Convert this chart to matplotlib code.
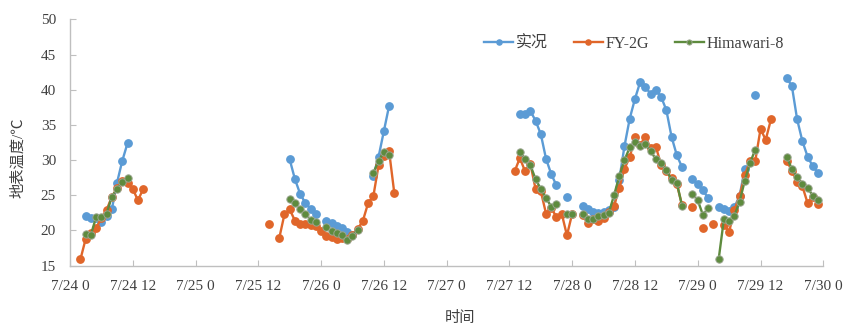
import numpy as np
import pandas as pd
import matplotlib
matplotlib.use("Agg")
import matplotlib.pyplot as plt

plt.rcParams['font.family'] = ['Liberation Serif', 'Noto Sans CJK SC']
plt.rcParams['axes.unicode_minus'] = False

# hourly land surface temperature, hours counted from 7/24 00:00
obs_hours = [3, 4, 5, 6, 7, 8, 9, 10, 11,
             42, 43, 44, 45, 46, 47,
             49, 50, 51, 52, 53, 54,
             58, 59, 60, 61,
             86, 87, 88, 89, 90, 91, 92, 93,
             95,
             98, 99, 100, 101, 102, 103, 104, 105, 106, 107, 108, 109, 110,
             111, 112, 113, 114, 115, 116, 117,
             119, 120, 121, 122,
             124, 125, 126, 127, 128, 129,
             131,
             137, 138, 139, 140, 141, 142, 143]
obs_temp = [22.1, 21.8, 21.8, 21.2, 22.0, 23.0, 26.8, 29.9, 32.4,
            30.1, 27.3, 25.2, 23.9, 23.1, 22.3,
            21.3, 21.0, 20.6, 20.3, 19.8, 19.3,
            27.8, 30.5, 34.1, 37.7,
            36.5, 36.6, 37.0, 35.6, 33.7, 30.2, 28.0, 26.4,
            24.7,
            23.5, 23.0, 22.6, 22.5, 22.6, 22.9, 23.3, 27.2, 32.0, 35.9, 38.7, 41.1, 40.4,
            39.4, 40.0, 39.0, 37.1, 33.3, 30.7, 29.0,
            27.3, 26.6, 25.7, 24.6,
            23.4, 23.0, 22.7, 23.3, 24.9, 28.8,
            39.3,
            41.7, 40.5, 35.8, 32.7, 30.5, 29.1, 28.2]

fy_hours = [2, 3, 4, 5, 6, 7, 8, 9, 10, 11, 12, 13, 14,
            38,
            40, 41, 42, 43, 44, 45, 46, 47, 48, 49, 50, 51, 52, 53, 54, 55,
            56, 57, 58, 59, 60, 61, 62,
            85, 86, 87, 88, 89, 90, 91, 92, 93, 94, 95, 96,
            98, 99, 100, 101, 102, 103, 104, 105, 106, 107, 108, 109, 110,
            111, 112, 113, 114, 115, 116, 117,
            119, 121, 123,
            125, 126, 127, 128, 129, 130, 131, 132, 133, 134,
            137, 138, 139, 140, 141, 142, 143]
fy_temp = [15.9, 18.8, 19.6, 20.3, 21.8, 22.9, 24.8, 26.0, 27.0, 26.8, 25.9, 24.3, 25.9,
           20.9,
           18.9, 22.3, 23.0, 21.4, 20.9, 20.9, 20.8, 20.7, 19.9, 19.2, 19.1, 18.8, 18.9, 18.8, 19.4, 20.2,
           21.4, 23.9, 24.9, 29.3, 30.6, 31.3, 25.3,
           28.4, 30.3, 28.4, 29.5, 25.9, 25.6, 22.4, 23.2, 21.9, 22.4, 19.3, 22.4,
           22.2, 21.0, 21.6, 21.3, 21.8, 22.6, 23.5, 26.0, 28.8, 30.4, 33.3, 32.2, 33.3,
           31.7, 31.9, 29.3, 28.4, 27.4, 26.6, 23.6,
           23.3, 20.3, 20.9,
           20.8, 19.8, 22.9, 24.9, 27.9, 29.9, 29.9, 34.4, 32.9, 35.8,
           29.9, 28.5, 26.9, 26.3, 23.9, 24.8, 23.8]

hw_hours = [3, 4, 5, 6, 7, 8, 9, 10, 11,
            42, 43, 44, 45, 46, 47,
            49, 50, 51, 52, 53, 54, 55,
            58, 59, 60, 61,
            86, 87, 88, 89, 90, 91, 92, 93,
            95, 96,
            98, 99, 100, 101, 102, 103, 104, 105, 106, 107, 108, 109, 110,
            111, 112, 113, 114, 115, 116, 117,
            119, 120, 121, 122,
            124, 125, 126, 127, 128, 129, 130, 131,
            137, 138, 139, 140, 141, 142, 143]
hw_temp = [19.5, 19.4, 21.9, 21.9, 22.4, 24.8, 25.9, 26.9, 27.5,
           24.5, 23.9, 23.0, 22.4, 21.5, 21.2,
           20.5, 19.9, 19.7, 19.4, 18.7, 19.2, 20.1,
           28.2, 29.9, 31.1, 30.7,
           31.2, 30.1, 29.3, 27.3, 25.9, 24.6, 23.4, 23.7,
           22.4, 22.4,
           22.4, 21.7, 21.6, 22.0, 22.2, 22.5, 25.0, 27.7, 30.0, 31.8, 32.6, 32.0, 32.3,
           31.3, 30.1, 29.6, 28.6, 27.2, 26.8, 23.5,
           25.2, 24.3, 22.2, 23.2,
           15.9, 21.6, 21.4, 22.1, 24.1, 27.1, 29.6, 31.5,
           30.5, 28.7, 27.6, 26.6, 26.1, 24.9, 24.4]

tick_hours = list(range(0, 145, 12))
tick_labels = ['7/24 0', '7/24 12', '7/25 0', '7/25 12', '7/26 0', '7/26 12',
               '7/27 0', '7/27 12', '7/28 0', '7/28 12', '7/29 0', '7/29 12', '7/30 0']

all_hours = np.arange(0, 145)


def full_series(hours, values):
    # missing hours become NaN so the line breaks there
    return pd.Series(values, index=hours).reindex(all_hours)


fig = plt.figure(figsize=(8.47, 3.28), dpi=100)
ax = fig.add_axes([0.0826, 0.19, 0.8894, 0.751])

ax.plot(all_hours, full_series(obs_hours, obs_temp), color='#5B9BD5', lw=1.7,
        marker='o', ms=5.3, mec='#5B9BD5', label='实况')
ax.plot(all_hours, full_series(fy_hours, fy_temp), color='#E0662A', lw=1.7,
        marker='o', ms=5.3, mec='#E0662A', label='FY-2G')
ax.plot(all_hours, full_series(hw_hours, hw_temp), color='#5E8B3E', lw=1.7,
        marker='o', ms=5.3, mec='#9AA58F', mew=0.7, label='Himawari-8')

ax.set_xlim(0, 144)
ax.set_ylim(15, 50)
ax.set_xticks(tick_hours)
ax.set_xticklabels(tick_labels)
ax.set_yticks(np.arange(15, 51, 5))

for side in ['top', 'right']:
    ax.spines[side].set_visible(False)
for side in ['left', 'bottom']:
    ax.spines[side].set_color('#BFBFBF')
    ax.spines[side].set_linewidth(1.0)
ax.tick_params(axis='both', direction='in', length=4, color='#BFBFBF',
               labelsize=11, labelcolor='#404040')
ax.tick_params(axis='x', pad=10)
ax.tick_params(axis='y', pad=10)

ax.set_ylabel('地表温度/℃', fontsize=11, color='#404040')
ax.yaxis.set_label_coords(-0.06, 0.44)
ax.set_xlabel('时间', fontsize=11, color='#404040')
ax.xaxis.set_label_coords(0.518, -0.185)

ax.legend(loc='center', bbox_to_anchor=(0.749, 0.90), ncol=3, frameon=False,
          fontsize=11.5, handlelength=1.8, columnspacing=1.6, handletextpad=0.2,
          markerscale=0.7, labelcolor='#404040')

fig.savefig('out.png', dpi=100)
